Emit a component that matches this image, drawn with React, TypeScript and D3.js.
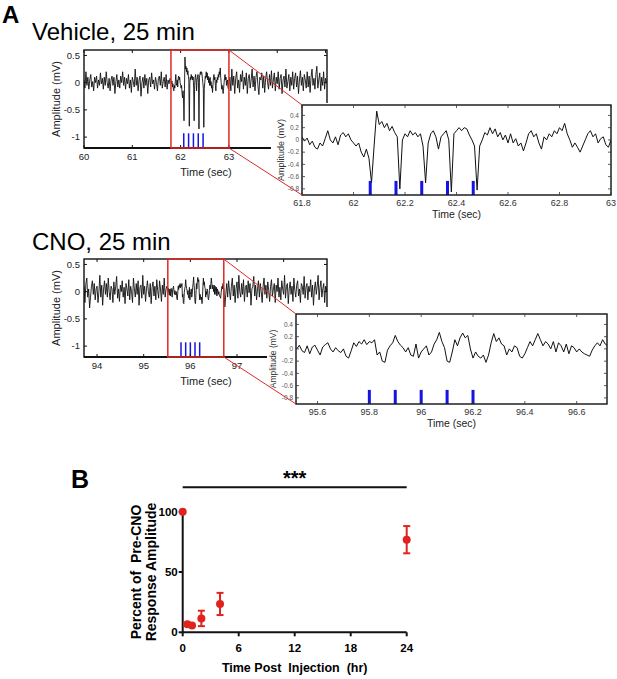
import * as d3 from "d3";

// ---- panel A: field potential traces (mV) ----
const COARSE = 0.02; // s between samples outside the zoomed window
const FINE = 0.01; // s between samples inside the zoomed window

const VEH_PRE_START = 60.0;
const VEH_PRE = [
  0.05, -0.1, 0.2, -0.05, 0.1, -0.12, 0.05, 0.15, -0.08, 0.02,
  -0.15, 0.1, 0.0, 0.12, -0.1, 0.05, -0.05, 0.18, -0.02, 0.08,
  -0.12, 0.1, -0.05, 0.2, 0.0, -0.1, 0.08, -0.15, 0.05, 0.12,
  -0.05, 0.1, -0.2, 0.02, 0.15, -0.08, 0.05, -0.1, 0.12, 0.0,
  0.2, -0.05, 0.1, -0.12, 0.08, -0.02, 0.15, -0.1, 0.05, -0.18,
  0.1, 0.02, -0.08, 0.25, -0.05, 0.1, -0.15, 0.05, 0.12, -0.25,
  0.0, 0.1, -0.1, 0.15, -0.05, 0.08, -0.2, 0.05, 0.1, -0.08,
  0.18, -0.02, 0.05, -0.12, 0.1, 0.0, -0.15, 0.08, 0.12, -0.05,
  0.2, -0.1, 0.02, 0.1, -0.08, 0.15, -0.12, 0.05, -0.02, 0.08,
];
const VEH_ZOOM_START = 61.8;
const VEH_ZOOM = [
  0.05, -0.02, 0.03, -0.08, -0.02, -0.12, -0.15, -0.05, -0.1, 0.02,
  0.15, 0.0, -0.05, 0.05, -0.08, 0.08, 0.12, 0.05, 0.1, 0.0,
  -0.05, -0.1, -0.05, -0.2, -0.28, -0.15, -0.3, -0.7, -0.1, 0.47,
  0.25, 0.3, 0.2, 0.27, 0.15, 0.22, 0.12, 0.05, -0.8, 0.0,
  0.1, 0.05, 0.15, 0.08, 0.12, 0.05, 0.1, -0.1, -0.7, -0.05,
  0.1, 0.15, 0.05, -0.15, 0.05, 0.1, 0.15, 0.0, -0.85, 0.1,
  0.15, 0.2, 0.15, 0.2, 0.18, 0.08, 0.0, -0.1, -0.82, -0.1,
  0.0, 0.12, 0.08, 0.2, 0.1, 0.18, 0.05, 0.12, 0.0, 0.08,
  -0.05, 0.1, -0.05, 0.02, -0.1, -0.05, -0.18, -0.05, 0.1, 0.15,
  0.05, 0.1, -0.05, -0.15, 0.05, 0.0, 0.1, 0.05, 0.15, 0.1,
  0.2, 0.15, 0.27, 0.1, 0.0, -0.12, -0.05, -0.12, -0.2, -0.1,
  0.0, 0.1, 0.15, 0.05, 0.1, -0.05, 0.02, 0.05, -0.08, -0.12,
  0.0,
];
const VEH_POST_START = 63.02;
const VEH_POST = [
  0.1, -0.15, 0.25, -0.05, 0.12, -0.2, 0.08, 0.2, -0.1, 0.05,
  -0.18, 0.15, 0.02, 0.22, -0.12, 0.1, -0.05, 0.18, -0.2, 0.08,
  0.15, -0.1, 0.05, 0.25, -0.08, 0.12, -0.15, 0.1, 0.2, -0.05,
  -0.22, 0.1, 0.05, 0.18, -0.1, 0.12, -0.18, 0.08, 0.2, 0.0,
  -0.12, 0.15, -0.05, 0.22, -0.1, 0.05, 0.18, -0.15, 0.1, -0.02,
  0.2, -0.12, 0.08, 0.15, -0.2, 0.05, 0.12, -0.08, 0.25, -0.1,
  0.02, 0.15, -0.15, 0.1, -0.05, 0.2, -0.12, 0.08, 0.18, -0.08,
  0.12, -0.2, 0.05, 0.22, -0.05, 0.1, -0.15, 0.15, 0.05, -0.1,
  0.2, -0.08, 0.12, -0.18, 0.1, 0.25, -0.05, 0.08, -0.12, 0.15,
  0.3, -0.1, 0.05, 0.18, -0.15, 0.1, -0.05, 0.2, -0.12, 0.08,
  0.0,
];
const VEH_STIM = [62.065, 62.165, 62.265, 62.365, 62.465];

const CNO_PRE_START = 93.72;
const CNO_PRE = [
  0.1, -0.2, 0.15, 0.25, -0.1, 0.05, -0.3, -0.1, 0.1, 0.2,
  -0.05, 0.15, -0.15, 0.05, 0.1, -0.2, 0.0, 0.3, -0.1, 0.12,
  -0.25, 0.05, 0.2, -0.05, 0.15, -0.1, 0.25, 0.0, -0.15, 0.1,
  0.05, -0.2, 0.18, -0.05, 0.1, 0.28, -0.12, 0.05, -0.18, 0.12,
  0.0, 0.2, -0.1, 0.08, -0.22, 0.15, 0.05, -0.08, 0.22, -0.15,
  0.1, 0.0, -0.2, 0.25, 0.05, -0.1, 0.15, -0.05, 0.2, -0.25,
  0.08, 0.12, -0.12, 0.3, -0.05, 0.1, -0.18, 0.05, 0.2, 0.0,
  -0.1, 0.15, -0.22, 0.08, 0.18, -0.08, 0.1, -0.15, 0.22, 0.02,
  -0.12, 0.2, 0.05, -0.18, 0.12, -0.05, 0.25, -0.1, 0.05, 0.1,
];
const CNO_ZOOM_START = 95.52;
const CNO_ZOOM = [
  0.0, 0.06, -0.03, -0.06, 0.05, -0.08, 0.03, 0.06, -0.02, -0.1,
  0.03, 0.07, 0.1, 0.0, -0.05, 0.02, -0.03, -0.06, 0.0, -0.12,
  -0.15, -0.03, 0.1, 0.04, 0.12, 0.08, 0.15, 0.07, 0.12, 0.1,
  0.15, -0.1, -0.05, -0.2, -0.22, -0.02, 0.05, 0.1, 0.22, 0.12,
  0.06, 0.02, -0.05, 0.02, -0.1, -0.12, 0.08, -0.15, -0.05, 0.0,
  0.05, -0.1, -0.05, 0.08, 0.15, 0.27, 0.12, 0.02, -0.2, -0.22,
  -0.05, 0.15, 0.05, 0.18, 0.26, 0.18, 0.22, 0.0, -0.15, -0.05,
  -0.12, -0.15, -0.1, -0.22, -0.1, 0.1, 0.25, 0.12, 0.18, 0.08,
  0.05, -0.1, 0.0, -0.05, 0.05, 0.02, -0.12, -0.15, -0.08, 0.02,
  0.12, 0.05, 0.15, 0.25, 0.15, 0.05, 0.12, 0.08, 0.0, 0.12,
  -0.05, 0.1, 0.05, -0.05, 0.08, -0.08, 0.05, 0.02, -0.05, 0.0,
  -0.05, -0.08, -0.1, -0.12, -0.02, 0.05, 0.1, 0.05, 0.15, 0.08,
  0.05,
];
const CNO_POST_START = 96.74;
const CNO_POST = [
  -0.28, -0.05, 0.15, -0.1, 0.2, 0.0, -0.15, 0.1, 0.25, -0.08,
  0.12, -0.2, 0.05, 0.18, -0.12, 0.3, 0.0, -0.1, 0.15, -0.05,
  0.22, -0.18, 0.08, 0.12, -0.1, 0.2, -0.02, 0.15, -0.25, 0.05,
  0.1, 0.28, -0.08, 0.12, -0.15, 0.05, 0.2, -0.1, 0.15, 0.0,
  -0.2, 0.1, 0.25, -0.05, 0.12, -0.12, 0.18, 0.02, -0.18, 0.1,
  0.22, -0.08, 0.05, 0.15, -0.2, 0.12, 0.0, 0.25, -0.1, 0.08,
  -0.15, 0.2, 0.05, -0.05, 0.3, -0.12, 0.1, 0.15, -0.22, 0.05,
  0.18, -0.05, 0.1, -0.18, 0.25, 0.02, -0.1, 0.12, 0.2, -0.08,
  0.05, -0.2, 0.15, 0.1, -0.05, 0.28, -0.12, 0.08, 0.15, -0.15,
  0.1, 0.0, 0.22, -0.1, 0.12, -0.25, 0.05, 0.18, -0.05, 0.1,
  0.3, -0.15, 0.08, 0.2, -0.1, 0.05, 0.15, -0.2, 0.1, 0.0,
  0.12,
];
const CNO_STIM = [95.8, 95.9, 96.0, 96.1, 96.2];

const OV_Y_DOMAIN: [number, number] = [-1.2, 0.6];
const OV_Y_TICKS = [0.5, 0, -0.5, -1];
const IN_Y_DOMAIN: [number, number] = [-0.9, 0.57];
const IN_Y_TICKS = [0.4, 0.2, 0, -0.2, -0.4, -0.6, -0.8];
const OV_STIM_TOP = -0.93;
const IN_STIM_TOP = -0.67;

const VEH_OV_DOMAIN: [number, number] = [60, 65.03];
const VEH_OV_TICKS = [60, 61, 62, 63, 64, 65];
const VEH_OV_LABELS = [60, 61, 62, 63]; // the rest sit under the inset
const VEH_IN_DOMAIN: [number, number] = [61.8, 63];
const VEH_IN_TICKS = [61.8, 62, 62.2, 62.4, 62.6, 62.8, 63];
const CNO_OV_DOMAIN: [number, number] = [93.72, 98.93];
const CNO_OV_TICKS = [94, 95, 96, 97, 98];
const CNO_OV_LABELS = [94, 95, 96, 97];
const CNO_IN_DOMAIN: [number, number] = [95.517, 96.717];
const CNO_IN_TICKS = [95.6, 95.8, 96, 96.2, 96.4, 96.6];

// ---- panel B: recovery of the response ----
const HOURS = [0, 0.5, 1, 2, 4, 24];
const PERCENT = [100, 6.6, 5.6, 11.5, 23.5, 76.8];
const SEM = [0, 0, 0, 6.4, 9.2, 11.3];
const B_X_TICKS = [0, 6, 12, 18, 24];
const B_Y_TICKS = [0, 50, 100];

const FONT = "'Liberation Sans', Arial, Helvetica, sans-serif";
const RED = "#e0231f";
const BLUE = "#1414e6";
const BOX_RED = "#dc2a24";

type Pt = [number, number];

function series(values: number[], start: number, step: number): Pt[] {
  return values.map((v, i) => [start + i * step, v] as Pt);
}

type RowProps = {
  id: string;
  title: string;
  titleY: number;
  top: number;
  pre: Pt[];
  zoom: Pt[];
  post: Pt[];
  stim: number[];
  ovDomain: [number, number];
  ovTicks: number[];
  ovLabels: number[];
  inDomain: [number, number];
  inTicks: number[];
  inLeft: number;
  inRight: number;
  inTop: number;
  bgLeft: number;
  bgTop: number;
  inYLabelX: number;
  inYLabelSize: number;
};

function TraceRow(p: RowProps) {
  const ovL = 84;
  const ovR = 327;
  const ovT = p.top;
  const ovB = p.top + 98;
  const ox = d3.scaleLinear().domain(p.ovDomain).range([ovL, ovR]);
  const oy = d3.scaleLinear().domain(OV_Y_DOMAIN).range([ovB, ovT]);
  const inB = p.inTop + 90;
  const ix = d3.scaleLinear().domain(p.inDomain).range([p.inLeft, p.inRight]);
  const iy = d3.scaleLinear().domain(IN_Y_DOMAIN).range([inB, p.inTop]);

  const ovLine = d3
    .line<Pt>()
    .x((d) => ox(d[0]))
    .y((d) => oy(d[1]));
  const inLine = d3
    .line<Pt>()
    .x((d) => ix(d[0]))
    .y((d) => iy(d[1]));
  const all = [...p.pre, ...p.zoom, ...p.post];

  const redL = ox(p.inDomain[0]);
  const redR = ox(p.inDomain[1]);

  return (
    <g>
      <text x={32} y={p.titleY} fontSize={24} fontFamily={FONT}>
        {p.title}
      </text>
      <defs>
        <clipPath id={`ov-${p.id}`}>
          <rect x={ovL} y={ovT} width={ovR - ovL} height={ovB - ovT} />
        </clipPath>
        <clipPath id={`in-${p.id}`}>
          <rect x={p.inLeft} y={p.inTop} width={p.inRight - p.inLeft} height={inB - p.inTop} />
        </clipPath>
      </defs>

      {/* overview */}
      <path
        d={ovLine(all) ?? ""}
        fill="none"
        stroke="#111"
        strokeWidth={0.9}
        clipPath={`url(#ov-${p.id})`}
      />
      {p.stim.map((s) => (
        <line
          key={s}
          x1={ox(s)}
          x2={ox(s)}
          y1={oy(OV_STIM_TOP)}
          y2={ovB}
          stroke={BLUE}
          strokeWidth={1.5}
        />
      ))}
      <rect x={ovL} y={ovT} width={ovR - ovL} height={ovB - ovT} fill="none" stroke="#111" strokeWidth={1.4} />
      <line x1={ovL} x2={ovR} y1={ovB} y2={ovB} stroke="#111" strokeWidth={2} />
      {p.ovTicks.map((t) => (
        <g key={t}>
          <line x1={ox(t)} x2={ox(t)} y1={ovB} y2={ovB - 3} stroke="#111" />
          <line x1={ox(t)} x2={ox(t)} y1={ovT} y2={ovT + 3} stroke="#111" />
        </g>
      ))}
      {p.ovLabels.map((t) => (
        <text
          key={t}
          x={ox(t)}
          y={ovB + 12}
          fontSize={9.5}
          fill="#222"
          textAnchor="middle"
          fontFamily={FONT}
        >
          {String(t)}
        </text>
      ))}
      {OV_Y_TICKS.map((t) => (
        <g key={t}>
          <line x1={ovL} x2={ovL + 3} y1={oy(t)} y2={oy(t)} stroke="#111" />
          <line x1={ovR} x2={ovR - 3} y1={oy(t)} y2={oy(t)} stroke="#111" />
          <text
            x={ovL - 4}
            y={oy(t) + 3.3}
            fontSize={9.5}
            fill="#222"
            textAnchor="end"
            fontFamily={FONT}
          >
            {String(t)}
          </text>
        </g>
      ))}
      <text
        transform={`translate(57,${(ovT + ovB) / 2}) rotate(-90)`}
        fontSize={11}
        textAnchor="middle"
        dominantBaseline="middle"
        fill="#222"
        fontFamily={FONT}
      >
        Amplitude (mV)
      </text>
      <text x={206} y={ovB + 28} fontSize={11} textAnchor="middle" fill="#222" fontFamily={FONT}>
        Time (sec)
      </text>
      <rect x={redL} y={ovT} width={redR - redL} height={ovB - ovT} fill="none" stroke={BOX_RED} strokeWidth={1.5} />

      {/* inset */}
      <rect x={p.bgLeft} y={p.bgTop} width={617 - p.bgLeft} height={inB + 40 - p.bgTop} fill="#fff" />
      <path
        d={inLine(p.zoom) ?? ""}
        fill="none"
        stroke="#111"
        strokeWidth={1}
        clipPath={`url(#in-${p.id})`}
      />
      {p.stim.map((s) => (
        <rect
          key={s}
          x={ix(s) - 1.5}
          width={3}
          y={iy(IN_STIM_TOP)}
          height={inB - iy(IN_STIM_TOP)}
          fill={BLUE}
        />
      ))}
      <rect
        x={p.inLeft}
        y={p.inTop}
        width={p.inRight - p.inLeft}
        height={inB - p.inTop}
        fill="none"
        stroke="#111"
        strokeWidth={1.4}
      />
      {p.inTicks.map((t) => (
        <g key={t}>
          <line x1={ix(t)} x2={ix(t)} y1={inB} y2={inB - 3} stroke="#333" strokeWidth={0.8} />
          <line x1={ix(t)} x2={ix(t)} y1={p.inTop} y2={p.inTop + 3} stroke="#333" strokeWidth={0.8} />
          <text
            x={ix(t)}
            y={inB + 11}
            fontSize={9}
            fill="#333"
            textAnchor="middle"
            fontFamily={FONT}
          >
            {String(t)}
          </text>
        </g>
      ))}
      {IN_Y_TICKS.map((t) => (
        <g key={t}>
          <line x1={p.inLeft} x2={p.inLeft + 3} y1={iy(t)} y2={iy(t)} stroke="#333" strokeWidth={0.8} />
          <line x1={p.inRight} x2={p.inRight - 3} y1={iy(t)} y2={iy(t)} stroke="#333" strokeWidth={0.8} />
          <text
            x={p.inLeft - 3}
            y={iy(t) + 2.3}
            fontSize={6.5}
            fill="#555"
            textAnchor="end"
            fontFamily={FONT}
          >
            {String(t)}
          </text>
        </g>
      ))}
      <text
        transform={`translate(${p.inYLabelX},${(p.inTop + inB) / 2}) rotate(-90)`}
        fontSize={p.inYLabelSize}
        textAnchor="middle"
        dominantBaseline="middle"
        fill="#333"
        fontFamily={FONT}
      >
        Amplitude (mV)
      </text>
      <text
        x={(p.inLeft + p.inRight) / 2}
        y={inB + 23}
        fontSize={10.5}
        textAnchor="middle"
        fill="#222"
        fontFamily={FONT}
      >
        Time (sec)
      </text>

      {/* zoom connectors */}
      <line x1={redR} y1={ovT} x2={p.inLeft} y2={p.inTop} stroke={BOX_RED} strokeWidth={1} />
      <line x1={redR} y1={ovB} x2={p.inLeft} y2={inB} stroke={BOX_RED} strokeWidth={1} />
    </g>
  );
}

function PanelB() {
  const x = d3.scaleLinear().domain([0, 24]).range([182.7, 406.7]);
  const y = d3.scaleLinear().domain([0, 100]).range([632.3, 511.7]);
  return (
    <g fontFamily={FONT}>
      <text x={71} y={488} fontSize={25} fontWeight="bold">
        B
      </text>
      <line x1={x(0)} x2={x(24)} y1={487.3} y2={487.3} stroke="#111" strokeWidth={2} />
      <text x={x(12)} y={485} fontSize={20} fontWeight="bold" textAnchor="middle">
        ***
      </text>
      <line x1={x(0)} x2={x(24)} y1={y(0)} y2={y(0)} stroke="#111" strokeWidth={2} />
      <line x1={x(0)} x2={x(0)} y1={y(0)} y2={y(100) - 1} stroke="#111" strokeWidth={2} />
      {B_X_TICKS.map((t) => (
        <g key={t}>
          <line x1={x(t)} x2={x(t)} y1={y(0)} y2={y(0) + 4} stroke="#111" strokeWidth={2} />
          <text x={x(t)} y={y(0) + 20} fontSize={11.5} fontWeight="bold" textAnchor="middle">
            {t}
          </text>
        </g>
      ))}
      {B_Y_TICKS.map((t) => (
        <g key={t}>
          <line x1={x(0) - 4} x2={x(0)} y1={y(t)} y2={y(t)} stroke="#111" strokeWidth={2} />
          <text x={x(0) - 5} y={y(t) + 4} fontSize={11.5} fontWeight="bold" textAnchor="end">
            {t}
          </text>
        </g>
      ))}
      <text
        transform={`translate(137,${y(50)}) rotate(-90)`}
        fontSize={14}
        fontWeight="bold"
        textAnchor="middle"
        dominantBaseline="middle"
        style={{ whiteSpace: "pre" }}
      >
        {"Percent of  Pre-CNO"}
      </text>
      <text
        transform={`translate(152,${y(50)}) rotate(-90)`}
        fontSize={14}
        fontWeight="bold"
        textAnchor="middle"
        dominantBaseline="middle"
      >
        Response Amplitude
      </text>
      <text
        x={x(12)}
        y={672}
        fontSize={12.5}
        fontWeight="bold"
        textAnchor="middle"
        style={{ whiteSpace: "pre" }}
      >
        {"Time Post  Injection  (hr)"}
      </text>
      {HOURS.map((h, i) => (
        <g key={h}>
          {SEM[i] > 0 && (
            <g stroke={RED} strokeWidth={2}>
              <line x1={x(h)} x2={x(h)} y1={y(PERCENT[i] - SEM[i])} y2={y(PERCENT[i] + SEM[i])} />
              <line x1={x(h) - 3.5} x2={x(h) + 3.5} y1={y(PERCENT[i] - SEM[i])} y2={y(PERCENT[i] - SEM[i])} />
              <line x1={x(h) - 3.5} x2={x(h) + 3.5} y1={y(PERCENT[i] + SEM[i])} y2={y(PERCENT[i] + SEM[i])} />
            </g>
          )}
          <circle cx={x(h)} cy={y(PERCENT[i])} r={4} fill={RED} />
        </g>
      ))}
    </g>
  );
}

export default function App() {
  return (
    <svg
      width={617}
      height={679}
      viewBox="0 0 617 679"
      style={{ position: "absolute", left: 0, top: 0, background: "#fff" }}
    >
      <text x={2} y={23} fontSize={24} fontWeight="bold" fontFamily={FONT}>
        A
      </text>
      <TraceRow
        id="veh"
        title="Vehicle, 25 min"
        titleY={40}
        top={50}
        pre={series(VEH_PRE, VEH_PRE_START, COARSE)}
        zoom={series(VEH_ZOOM, VEH_ZOOM_START, FINE)}
        post={series(VEH_POST, VEH_POST_START, COARSE)}
        stim={VEH_STIM}
        ovDomain={VEH_OV_DOMAIN}
        ovTicks={VEH_OV_TICKS}
        ovLabels={VEH_OV_LABELS}
        inDomain={VEH_IN_DOMAIN}
        inTicks={VEH_IN_TICKS}
        inLeft={302}
        inRight={611}
        inTop={105}
        bgLeft={271}
        bgTop={103}
        inYLabelX={282}
        inYLabelSize={9}
      />
      <TraceRow
        id="cno"
        title="CNO, 25 min"
        titleY={250}
        top={259}
        pre={series(CNO_PRE, CNO_PRE_START, COARSE)}
        zoom={series(CNO_ZOOM, CNO_ZOOM_START, FINE)}
        post={series(CNO_POST, CNO_POST_START, COARSE)}
        stim={CNO_STIM}
        ovDomain={CNO_OV_DOMAIN}
        ovTicks={CNO_OV_TICKS}
        ovLabels={CNO_OV_LABELS}
        inDomain={CNO_IN_DOMAIN}
        inTicks={CNO_IN_TICKS}
        inLeft={296}
        inRight={607}
        inTop={314}
        bgLeft={267}
        bgTop={307}
        inYLabelX={274}
        inYLabelSize={8.5}
      />
      <PanelB />
    </svg>
  );
}
